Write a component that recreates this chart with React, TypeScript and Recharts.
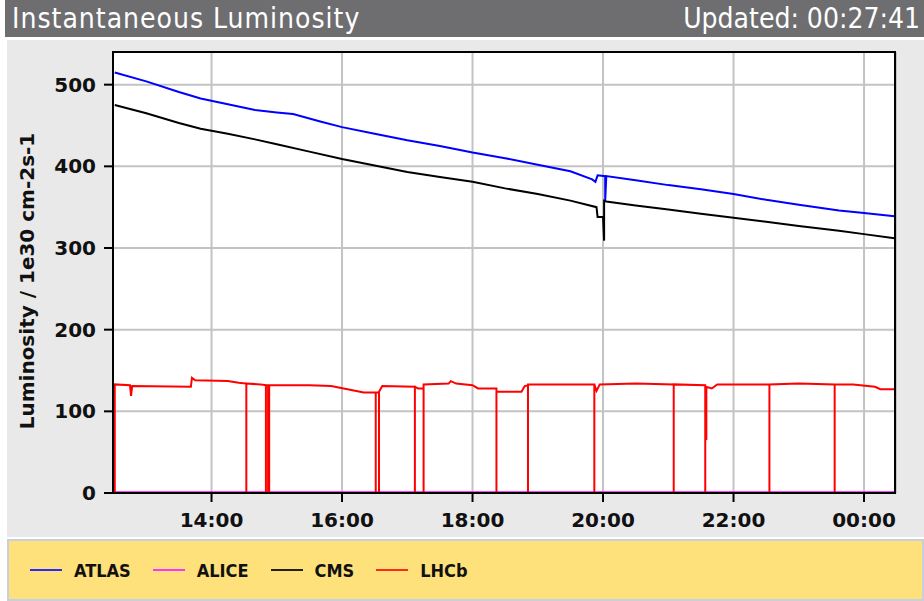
import { LineChart, Line, XAxis, YAxis, CartesianGrid, Label } from 'recharts';

// readings taken from the LHC page, times as HH:MM (after midnight counts as next day)
const atlas: [string, number][] = [
  ['12:31', 515], ['13:00', 504], ['13:30', 491], ['13:50', 483], ['14:15', 476],
  ['14:40', 469], ['15:00', 466], ['15:15', 464], ['15:40', 455], ['16:00', 448],
  ['16:30', 440], ['17:00', 432], ['17:30', 425], ['18:00', 417], ['18:30', 410],
  ['19:00', 402], ['19:30', 394], ['19:50', 384], ['19:53', 381], ['19:55', 389],
  ['20:02', 388], ['20:02', 358], ['20:03', 388], ['20:30', 383], ['21:00', 377],
  ['21:30', 372], ['22:00', 366], ['22:30', 359], ['23:00', 353], ['23:37', 346],
  ['00:00', 343], ['00:28', 339],
];

const alice: [string, number][] = [['12:31', 1], ['00:28', 1]];

const cms: [string, number][] = [
  ['12:31', 475], ['13:00', 465], ['13:30', 453], ['13:50', 446], ['14:15', 440],
  ['14:40', 433], ['15:00', 427], ['15:30', 418], ['16:00', 409], ['16:30', 401],
  ['17:00', 393], ['17:30', 387], ['18:00', 381], ['18:30', 373], ['19:00', 366],
  ['19:30', 358], ['19:54', 350], ['19:55', 338], ['20:00', 338], ['20:01', 309],
  ['20:01', 358], ['20:03', 357], ['20:30', 352], ['21:00', 347], ['21:30', 342],
  ['22:00', 337], ['22:30', 332], ['23:00', 327], ['23:37', 321], ['00:00', 317],
  ['00:28', 312],
];

const lhcb: [string, number][] = [
  ['12:31', 0], ['12:31', 133], ['12:45', 132], ['12:46', 119], ['12:47', 131],
  ['13:41', 130], ['13:42', 141], ['13:45', 138], ['14:15', 137], ['14:25', 135],
  ['14:32', 134], ['14:32', 0], ['14:32', 134], ['14:45', 133],
  ['14:50', 132], ['14:50', 0], ['14:50', 132], ['14:52', 132], ['14:52', 0], ['14:52', 132],
  ['14:53', 0], ['14:53', 132], ['15:30', 132], ['15:50', 131], ['16:05', 127],
  ['16:20', 123], ['16:31', 123], ['16:31', 0], ['16:31', 123], ['16:34', 123],
  ['16:34', 0], ['16:34', 124], ['16:37', 131], ['17:07', 130], ['17:07', 0],
  ['17:07', 130], ['17:10', 128], ['17:15', 128], ['17:15', 0], ['17:15', 133],
  ['17:38', 134], ['17:40', 137], ['17:45', 134], ['18:00', 132], ['18:05', 128],
  ['18:22', 128], ['18:22', 0], ['18:22', 124], ['18:45', 124], ['18:48', 131],
  ['18:51', 132], ['18:51', 0], ['18:51', 133], ['19:52', 133], ['19:52', 0],
  ['19:52', 133], ['19:54', 125], ['19:57', 133], ['20:30', 134], ['21:05', 133],
  ['21:05', 0], ['21:05', 133], ['21:34', 132], ['21:34', 0], ['21:34', 130],
  ['21:35', 65], ['21:35', 130], ['21:40', 128], ['21:45', 133], ['22:33', 133],
  ['22:33', 0], ['22:33', 133], ['23:00', 134], ['23:33', 133], ['23:33', 0],
  ['23:33', 133], ['23:50', 133], ['00:10', 130], ['00:15', 127], ['00:28', 127],
];

const xTicks = [14, 16, 18, 20, 22, 24];
const yTicks = [0, 100, 200, 300, 400, 500];

const series = [
  { name: 'ATLAS', points: atlas, color: '#0000ff', legend: '#2828ff' },
  { name: 'ALICE', points: alice, color: '#ff00ff', legend: '#ff33ff' },
  { name: 'CMS', points: cms, color: '#000000', legend: '#222211' },
  { name: 'LHCb', points: lhcb, color: '#ff0000', legend: '#ff2a1a' },
];

function toHours(s: string) {
  const [h, m] = s.split(':').map(Number);
  return (h < 12 ? h + 24 : h) + m / 60;
}

const toRows = (pts: [string, number][]) => pts.map(([t, v]) => ({ t: toHours(t), v }));

const tickFont = { fill: '#111', fontSize: 20, fontWeight: 'bold', fontFamily: 'DejaVu Sans' };

export default function App() {
  return (
    <div style={{ position: 'absolute', left: 0, top: 0, width: 924, height: 601, background: '#fff', overflow: 'hidden' }}>
      <div style={{
        position: 'absolute', left: 5, top: 0, width: 919, height: 37, background: '#6e6d70',
        color: '#fff', fontFamily: 'DejaVu Sans Condensed', fontSize: 28, lineHeight: '37px',
      }}>
        <span style={{ position: 'absolute', left: 7, letterSpacing: 1 }}>Instantaneous Luminosity</span>
        <span style={{ position: 'absolute', right: 4 }}>Updated: 00:27:41</span>
      </div>
      <div style={{ position: 'absolute', left: 7, top: 40, width: 917, height: 497, background: '#e9e9e9' }} />

      <div style={{ position: 'absolute', left: 0, top: 0 }}>
        <LineChart width={924} height={540} margin={{ top: 52, right: 28, left: 0, bottom: 7 }}>
          <CartesianGrid stroke="#c3c3c3" strokeWidth={2} fill="#ffffff" fillOpacity={1} />
          <XAxis
            dataKey="t"
            type="number"
            domain={[12.49, 24.49]}
            allowDataOverflow
            ticks={xTicks}
            tickFormatter={(h: number) => String(h % 24).padStart(2, '0') + ':00'}
            height={40}
            tickSize={9}
            tickMargin={11}
            axisLine={{ stroke: '#000', strokeWidth: 2 }}
            tickLine={{ stroke: '#000', strokeWidth: 2 }}
            tick={tickFont}
          />
          <YAxis
            type="number"
            domain={[0, 540]}
            allowDataOverflow
            ticks={yTicks}
            width={113}
            tickSize={9}
            tickMargin={8}
            axisLine={{ stroke: '#000', strokeWidth: 2 }}
            tickLine={{ stroke: '#000', strokeWidth: 2 }}
            tick={tickFont}
          >
            <Label
              content={() => (
                <text
                  x={27}
                  y={281}
                  transform="rotate(-90 27 281)"
                  textAnchor="middle"
                  dominantBaseline="central"
                  style={{ fontFamily: 'DejaVu Sans', fontWeight: 'bold', fontSize: 20, fill: '#111' }}
                >
                  Luminosity / 1e30 cm-2s-1
                </text>
              )}
            />
          </YAxis>
          {series.map((s) => (
            <Line
              key={s.name}
              data={toRows(s.points)}
              dataKey="v"
              name={s.name}
              type="linear"
              stroke={s.color}
              strokeWidth={2}
              dot={false}
              isAnimationActive={false}
            />
          ))}
        </LineChart>
      </div>
      {/* top and right frame of the plot */}
      <div style={{
        position: 'absolute', left: 112, top: 51, width: 784, height: 442,
        borderTop: '2px solid #000', borderRight: '2px solid #000', boxSizing: 'border-box', pointerEvents: 'none',
      }} />

      <div style={{
        position: 'absolute', left: 7, top: 539, width: 917, height: 62, boxSizing: 'border-box',
        background: '#fee17b', border: '2px solid #c8d0e0', display: 'flex', alignItems: 'center',
        paddingLeft: 21, fontFamily: 'DejaVu Sans Condensed', fontWeight: 'bold', fontSize: 18, color: '#111',
      }}>
        {series.map((s) => (
          <div key={s.name} style={{ display: 'flex', alignItems: 'center', marginRight: 22 }}>
            <div style={{ width: 32, height: 2, background: s.legend, marginRight: 12 }} />
            <span>{s.name}</span>
          </div>
        ))}
      </div>
    </div>
  );
}
